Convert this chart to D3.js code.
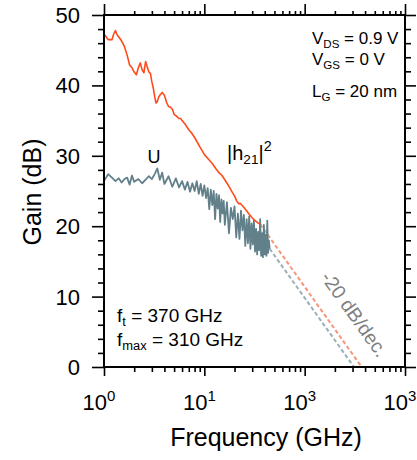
<!DOCTYPE html>
<html><head><meta charset="utf-8">
<script src="https://cdn.jsdelivr.net/npm/d3@7"></script>
<style>body{margin:0;background:#fff}svg{display:block}text{font-family:"Liberation Sans",Arial,sans-serif}</style>
</head><body>
<script>
// ---- data ----
const uFreq = [1.0,1.1,1.2,1.3,1.4,1.5,1.6,1.7,1.8,1.9,
  2.0,2.2,2.4,2.6,2.8,3.0,3.2,3.4,3.6,3.8,
  4.0,4.4,4.8,5.2,5.6,6.0,6.4,6.8,7.2,7.6,
  8.0,8.4,8.8,9.2,9.6,10,10.4,10.8,11.2,11.6,12.0,12.4,12.8,13.2,13.6,14.0,14.4,14.8,15.2,15.6,
  16,16.8,17.6,18.4,19.2,20,20.8,21.6,22.4,23.2,24,24.8,25.6,26.4,27.2,28,28.8,29.6,30.4,31.2,
  32,32.8,33.6,34.4,35.2,36,36.8,37.6,38.4,39.2,40,40.8,41.6,42.4,43.2,44,44.8];
const uGain = [26.4,27.4,26.9,26.4,26.8,26.2,26.7,26.9,25.9,27.2,
  26.3,26.7,26.1,26.6,27.1,26.7,27.4,28.2,26.6,27.6,
  26.0,27.1,25.6,26.8,25.5,26.4,25.2,26.3,24.9,26.1,
  25.0,26.4,24.6,26.0,24.3,25.8,24.0,25.4,22.4,25.2,23.0,25.0,21.0,24.6,22.5,24.4,20.6,23.8,21.8,23.6,
  20.2,23.4,19.0,22.6,21.0,22.8,18.4,21.8,18.2,22.2,19.4,21.6,17.2,21.0,17.6,21.4,16.8,20.4,17.4,20.8,
  16.4,19.6,16.0,19.2,16.6,21.0,15.8,19.0,15.6,20.2,16.0,18.8,15.8,20.8,16.2,18.0,16.8];
const hFreq = [1.0,1.05,1.1,1.2,1.25,1.3,1.35,1.4,1.5,1.6,1.7,1.8,1.9,2.0,2.1,2.2,2.3,2.4,2.5,2.6,2.7,2.8,2.9,
  3.0,3.1,3.2,3.3,3.4,3.5,3.6,3.8,4.0,4.2,4.4,4.6,4.8,5.0,5.2,5.4,5.6,5.8,6.0,6.5,7.0,7.5,8,9,10,11,12,13,14,15,
  16,17,18,19,20,21,22,23,24,26,28,30,32,34,36];
const hGain = [47.3,46.9,46.5,46.5,47.3,47.8,47.2,46.9,46.3,45.5,44.3,42.9,42.5,41.9,41.5,42.5,43.2,42.2,41.8,43.4,42.6,41.9,41.7,
  40.5,39.6,38.4,37.5,37.7,38.3,38.6,39.0,38.6,37.6,37.0,36.9,36.6,35.9,35.7,35.5,35.3,35.3,35.0,34.4,33.7,33.2,32.6,31.3,30.2,29.5,28.9,28.2,27.6,27.2,
  26.6,26.0,25.4,24.8,24.3,23.6,23.2,23.2,22.9,22.3,21.7,21.2,20.8,20.5,20.3];
const hExtrapFreq = [36, 370];
const hExtrapGain = [20.3, 0];
const uExtrapFreq = [44.8, 310];
const uExtrapGain = [16.8, 0];
const yMajor = [0,10,20,30,40,50];
const yMinor = [2,4,6,8,12,14,16,18,22,24,26,28,32,34,36,38,42,44,46,48];
const xMajor = [1,10,100,1000];
const xTickBase = ["10","10","10","10"];
const xTickExp = ["0","1","3","3"];

// ---- chart ----
const W=417,H=460;
const svg=d3.select("body").append("svg").attr("width",W).attr("height",H);
const x=d3.scaleLog().domain([1,1000]).range([104,405]);
const y=d3.scaleLinear().domain([0,50]).range([367,15]);
const xMinor=[];
[1,10,100].forEach(d=>{for(let k=2;k<=9;k++)xMinor.push(d*k);});

const line=d3.line().x(d=>x(d[0])).y(d=>y(d[1]));

// dashed extrapolations
svg.append("path").datum(hExtrapFreq.map((f,i)=>[f,hExtrapGain[i]]))
  .attr("d",line).attr("fill","none").attr("stroke","#f6957c").attr("stroke-width",2).attr("stroke-dasharray","4,2.5");
svg.append("path").datum(uExtrapFreq.map((f,i)=>[f,uExtrapGain[i]]))
  .attr("d",line).attr("fill","none").attr("stroke","#9ab0b6").attr("stroke-width",2).attr("stroke-dasharray","4,2.5");
// U
svg.append("path").datum(uFreq.map((f,i)=>[f,uGain[i]]))
  .attr("d",line).attr("fill","none").attr("stroke","#62808a").attr("stroke-width",1.8).attr("stroke-linejoin","round");
// h21
svg.append("path").datum(hFreq.map((f,i)=>[f,hGain[i]]))
  .attr("d",line).attr("fill","none").attr("stroke","#ff4a1a").attr("stroke-width",1.6).attr("stroke-linejoin","round");

// axes
function addAxis(axisGen,tr){
  const g=svg.append("g").attr("transform",tr).call(axisGen);
  g.selectAll("path.domain").remove();
  g.selectAll("line").attr("stroke","#000").attr("stroke-width",1.6);
  g.selectAll("text").remove();
}
addAxis(d3.axisLeft(y).tickValues(yMajor).tickSize(12),"translate(104,0)");
addAxis(d3.axisLeft(y).tickValues(yMinor).tickSize(6),"translate(104,0)");
addAxis(d3.axisRight(y).tickValues(yMajor).tickSize(11),"translate(405,0)");
addAxis(d3.axisRight(y).tickValues(yMinor).tickSize(6),"translate(405,0)");
addAxis(d3.axisBottom(x).tickValues(xMajor).tickSize(9),"translate(0,367)");
addAxis(d3.axisBottom(x).tickValues(xMinor).tickSize(5),"translate(0,367)");
addAxis(d3.axisTop(x).tickValues(xMajor).tickSize(11),"translate(0,15)");
addAxis(d3.axisTop(x).tickValues(xMinor).tickSize(4),"translate(0,15)");
svg.append("rect").attr("x",104).attr("y",15).attr("width",301).attr("height",352)
  .attr("fill","none").attr("stroke","#000").attr("stroke-width",2);

// tick labels
svg.selectAll(".yl").data(yMajor).enter().append("text")
  .attr("x",80).attr("y",d=>y(d)+8).attr("text-anchor","end").attr("font-size",22).text(d=>d);
xMajor.forEach((v,i)=>{
  const t=svg.append("text").attr("x",x(v)-5).attr("y",410).attr("text-anchor","middle").attr("font-size",22);
  t.append("tspan").text(xTickBase[i]);
  t.append("tspan").attr("font-size",15).attr("dy",-9).text(xTickExp[i]);
});
svg.append("text").attr("x",266).attr("y",446).attr("text-anchor","middle").attr("font-size",25).text("Frequency (GHz)");
svg.append("text").attr("transform","translate(41,192) rotate(-90)").attr("text-anchor","middle").attr("font-size",25).text("Gain (dB)");

// annotations
function sub(xp,yp,fs,parts){
  const t=svg.append("text").attr("x",xp).attr("y",yp).attr("font-size",fs);
  parts.forEach(p=>{
    const s=t.append("tspan").text(p.t);
    if(p.sub){s.attr("font-size",fs*0.68).attr("dy",p.dy);}
    if(p.sup){s.attr("font-size",fs*0.72).attr("dy",p.dy);}
    if(p.dy!==undefined && !p.sub && !p.sup) s.attr("dy",p.dy);
  });
  return t;
}
sub(312,44,17,[{t:"V"},{t:"DS",sub:1,dy:4},{t:" = 0.9 V",dy:-4}]);
sub(312,65,17,[{t:"V"},{t:"GS",sub:1,dy:4},{t:" = 0 V",dy:-4}]);
sub(312,97,17,[{t:"L"},{t:"G",sub:1,dy:4},{t:" = 20 nm",dy:-4}]);
svg.append("text").attr("x",154).attr("y",163).attr("text-anchor","middle").attr("font-size",18).text("U");
sub(227,160,20,[{t:"|h"},{t:"21",sub:1,dy:4},{t:"|",dy:-4},{t:"2",sup:1,dy:-9}]);
sub(117,322,19,[{t:"f"},{t:"t",sub:1,dy:4},{t:" = 370 GHz",dy:-4}]);
sub(117,346,19,[{t:"f"},{t:"max",sub:1,dy:4},{t:" = 310 GHz",dy:-4}]);
svg.append("text").attr("transform","translate(349,318) rotate(54.5)").attr("text-anchor","middle")
  .attr("font-size",19.5).attr("fill","#7f7f7f").text("-20 dB/dec.");
</script>
</body></html>
